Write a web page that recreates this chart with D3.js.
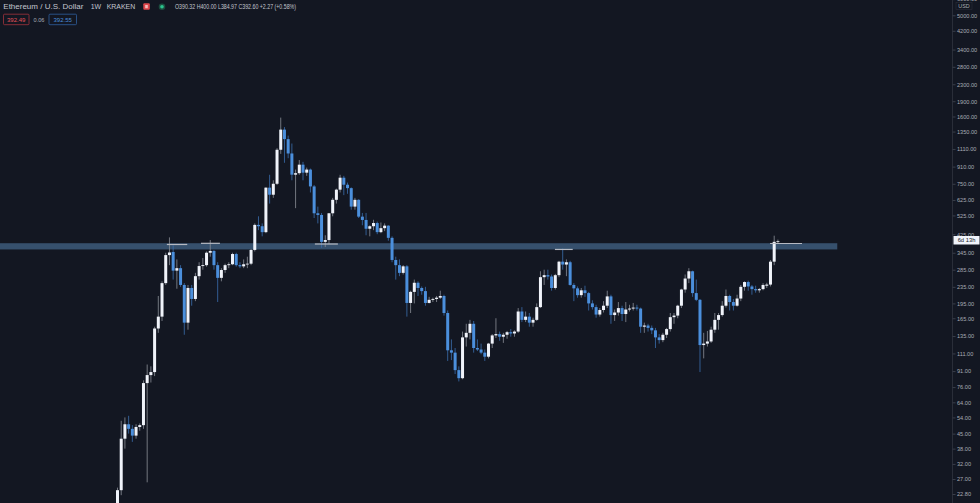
<!DOCTYPE html>
<html>
<head>
<meta charset="utf-8">
<script src="https://cdn.jsdelivr.net/npm/d3@7"></script>
<style>
html, body { margin: 0; padding: 0; background: #131722; }
svg { display: block; font-family: "Liberation Sans", Arial, sans-serif; }
</style>
</head>
<body>
<svg id="chart" width="980" height="503"></svg>
<script>
// weekly candles, first week 2017-03-06, last week 2020-08-03
var opens = [18.5, 23.8, 42.5, 50, 47.5, 44, 48.5, 49.5, 79.5, 87,
    90, 147, 168, 245, 336, 348, 282, 290, 240, 157,
    232, 205, 265, 297, 300, 345, 352, 300, 260, 284,
    300, 303, 340, 300, 296, 303, 305, 356, 472, 465,
    435, 718, 663, 750, 1100, 1380, 1240, 1055, 831, 845,
    930, 850, 880, 728, 538, 528, 390, 398, 538, 626,
    702, 803, 742, 714, 580, 626, 518, 499, 452, 465,
    482, 435, 455, 468, 408, 318, 300, 275, 296, 196,
    222, 246, 232, 224, 196, 203, 205, 208, 212, 175,
    115, 112, 92, 84, 133, 140, 155, 118, 116, 112,
    107, 124, 136, 138, 134, 137, 141, 139, 142, 178,
    162, 168, 157, 162, 187, 262, 268, 264, 232, 268,
    312, 302, 310, 240, 231, 214, 226, 219, 195, 187,
    172, 181, 190, 211, 171, 176, 185, 173, 182, 184,
    186, 184, 150, 152, 148, 144, 133, 129, 137, 146,
    167, 170, 190, 228, 258, 280, 219, 203, 122, 124,
    127, 145, 162, 171, 190, 212, 198, 190, 206, 235,
    248, 236, 229, 226, 229, 238, 241, 312, 390.32];
var highs = [24.5, 52, 54, 55, 49.5, 50, 50.5, 82, 98, 96,
    150, 212, 250, 345, 410, 375, 320, 300, 245, 240,
    240, 275, 310, 325, 350, 398, 355, 310, 290, 305,
    310, 345, 345, 310, 320, 330, 360, 480, 520, 480,
    720, 830, 780, 1120, 1580, 1420, 1290, 1180, 880, 980,
    960, 900, 890, 740, 580, 540, 420, 540, 640, 710,
    830, 820, 760, 720, 640, 630, 540, 540, 470, 500,
    490, 485, 480, 470, 415, 330, 320, 300, 300, 225,
    255, 250, 236, 235, 210, 208, 212, 225, 215, 180,
    130, 118, 96, 142, 155, 162, 160, 130, 124, 116,
    125, 138, 165, 142, 140, 143, 146, 144, 185, 187,
    178, 175, 166, 195, 280, 285, 285, 270, 272, 315,
    362, 320, 315, 245, 236, 232, 238, 222, 202, 192,
    185, 200, 225, 215, 182, 198, 190, 198, 192, 196,
    192, 186, 157, 155, 152, 148, 138, 140, 148, 175,
    175, 192, 230, 270, 290, 282, 255, 205, 140, 143,
    150, 175, 175, 200, 228, 215, 205, 215, 240, 250,
    252, 240, 238, 232, 245, 246, 318, 418, 400];
var lows = [18, 22.5, 38, 45, 41, 42.5, 46.5, 47.5, 26, 80,
    86, 140, 160, 240, 300, 255, 230, 235, 137, 145,
    190, 200, 255, 285, 295, 330, 285, 198, 250, 275,
    290, 300, 295, 290, 290, 290, 300, 350, 445, 415,
    430, 600, 640, 740, 1050, 950, 1000, 780, 570, 830,
    780, 820, 680, 510, 480, 365, 368, 380, 520, 600,
    680, 660, 670, 560, 560, 510, 470, 420, 415, 445,
    425, 430, 440, 395, 310, 255, 265, 270, 168, 175,
    195, 212, 215, 190, 195, 198, 198, 205, 170, 102,
    103, 88, 81, 83, 120, 130, 112, 114, 110, 102,
    105, 118, 132, 128, 125, 131, 134, 134, 140, 158,
    158, 150, 150, 160, 185, 240, 255, 225, 228, 262,
    285, 265, 238, 200, 208, 208, 210, 180, 182, 166,
    168, 176, 185, 155, 160, 170, 160, 158, 178, 180,
    180, 140, 140, 142, 138, 118, 124, 126, 132, 142,
    155, 165, 185, 220, 245, 210, 200, 90, 105, 120,
    125, 140, 145, 168, 186, 180, 180, 188, 200, 225,
    225, 215, 220, 220, 226, 232, 236, 300, 384.97];
var closes = [23.8, 42.5, 50, 47.5, 44, 48.5, 49.5, 79.5, 87, 90,
    147, 168, 245, 336, 346, 282, 290, 240, 157, 232,
    205, 265, 297, 300, 345, 352, 300, 260, 284, 300,
    303, 340, 300, 296, 303, 305, 356, 472, 465, 435,
    718, 663, 750, 1100, 1380, 1240, 1055, 831, 845, 930,
    850, 880, 728, 538, 528, 390, 398, 538, 626, 702,
    803, 742, 714, 580, 626, 518, 499, 452, 465, 482,
    435, 455, 468, 408, 318, 300, 275, 296, 196, 222,
    246, 232, 224, 196, 203, 205, 208, 212, 175, 115,
    112, 92, 84, 133, 140, 155, 118, 116, 112, 107,
    124, 136, 138, 134, 137, 141, 139, 142, 178, 162,
    168, 157, 162, 187, 262, 268, 264, 232, 268, 312,
    302, 310, 240, 231, 214, 226, 219, 195, 187, 172,
    181, 190, 211, 171, 176, 185, 173, 182, 184, 186,
    184, 150, 152, 148, 144, 133, 129, 137, 146, 167,
    170, 190, 228, 258, 280, 219, 203, 122, 124, 127,
    145, 162, 171, 190, 212, 198, 190, 206, 235, 248,
    236, 229, 226, 229, 240, 241, 312, 390, 392.6];

var priceTicks = [22.8, 27, 32, 38, 45, 54, 64, 76, 91, 111, 135, 165, 195,
    235, 285, 345, 425, 525, 625, 750, 910, 1110, 1350, 1600, 1900, 2300,
    2800, 3400, 4200, 5000, 6000];

// resistance zone (price) and its extent in weeks
var zonePrice = [358, 384];
var zoneWeeks = [-32, 194];

// short horizontal marks drawn on the chart
var markFrom = [13.3, 22.5, 53.2, 117.9, 175.9];
var markTo = [18.8, 27.6, 59.4, 122.7, 184.5];
var markPrice = [378.6, 383.6, 380.6, 358, 382.8];

var W = 980, H = 503, paneW = 952.5;
var upColor = "#f0f3fa", downColor = "#4b8fdc";

var svg = d3.select("#chart");
svg.append("rect").attr("width", W).attr("height", H).attr("fill", "#131722");

var x = d3.scaleLinear().domain([0, closes.length - 1]).range([117.5, 777.9]);
var y = d3.scaleLog().domain([22.8, 5000]).range([494, 15.3]);

svg.append("clipPath").attr("id", "pane")
    .append("rect").attr("width", paneW).attr("height", H);

var pane = svg.append("g").attr("clip-path", "url(#pane)");

//zone
pane.append("rect")
    .attr("x", x(zoneWeeks[0]))
    .attr("y", y(zonePrice[1]))
    .attr("width", x(zoneWeeks[1]) - x(zoneWeeks[0]))
    .attr("height", y(zonePrice[0]) - y(zonePrice[1]))
    .attr("fill", "#36506d");

var candles = closes.map(function(c, i){
    return {i: i, o: opens[i], h: highs[i], l: lows[i], c: c};
});

//wicks
pane.selectAll(".wick").data(candles).enter().append("line")
    .attr("class", "wick")
    .attr("x1", function(d){ return x(d.i); })
    .attr("x2", function(d){ return x(d.i); })
    .attr("y1", function(d){ return y(d.h); })
    .attr("y2", function(d){ return y(d.l); })
    .attr("stroke", function(d){ return d.c >= d.o ? "#8c8f98" : "#3b6fae"; })
    .attr("stroke-width", 0.8);

//bodies
var bw = 3;
pane.selectAll(".body").data(candles).enter().append("rect")
    .attr("class", "body")
    .attr("x", function(d){ return x(d.i) - bw / 2; })
    .attr("y", function(d){ return y(Math.max(d.o, d.c)); })
    .attr("width", bw)
    .attr("height", function(d){ return Math.max(0.8, Math.abs(y(d.o) - y(d.c))); })
    .attr("fill", function(d){ return d.c >= d.o ? upColor : downColor; });

//marks
markPrice.forEach(function(p, k){
    pane.append("line")
        .attr("x1", x(markFrom[k])).attr("x2", x(markTo[k]))
        .attr("y1", y(p)).attr("y2", y(p))
        .attr("stroke", "#b6b9c2")
        .attr("stroke-width", 1.2);
});

//price axis
svg.append("line")
    .attr("x1", paneW).attr("x2", paneW)
    .attr("y1", 0).attr("y2", H)
    .attr("stroke", "#2a2e39");

var axis = svg.append("g")
    .attr("transform", "translate(" + paneW + ",0)")
    .call(d3.axisRight(y).tickValues(priceTicks).tickSize(3).tickSizeOuter(0)
        .tickPadding(1.5).tickFormat(d3.format(".2f")));
axis.select(".domain").remove();
axis.selectAll(".tick line").attr("stroke", "#3a3e4a");
axis.selectAll(".tick text")
    .attr("fill", "#a9acb5")
    .style("font-size", "5.6px")
    .style("font-family", "'Liberation Sans', Arial, sans-serif");

svg.append("rect").attr("x", 956).attr("y", 2.6).attr("width", 16).attr("height", 7)
    .attr("fill", "#131722").attr("stroke", "#2a2e39").attr("stroke-width", 0.6);
svg.append("text").attr("x", 964).attr("y", 8.3).attr("text-anchor", "middle")
    .attr("fill", "#a9acb5").style("font-size", "5.4px").text("USD");

// countdown label
svg.append("rect").attr("x", 953.5).attr("y", 236).attr("width", 26).attr("height", 8.5)
    .attr("fill", "#f0f3fa");
svg.append("text").attr("x", 966.5).attr("y", 242.4).attr("text-anchor", "middle")
    .attr("fill", "#131722").style("font-size", "5.8px").text("6d 13h");

//header
var hdr = svg.append("g").attr("fill", "#c3c6ce");
hdr.append("text").attr("x", 3.3).attr("y", 9.2).style("font-size", "8px")
    .attr("textLength", 80).attr("lengthAdjust", "spacingAndGlyphs")
    .text("Ethereum / U.S. Dollar");
hdr.append("text").attr("x", 90.7).attr("y", 9.2).style("font-size", "8px")
    .attr("textLength", 10.5).attr("lengthAdjust", "spacingAndGlyphs").text("1W");
hdr.append("text").attr("x", 106.7).attr("y", 9.2).style("font-size", "8px")
    .attr("textLength", 28.5).attr("lengthAdjust", "spacingAndGlyphs").text("KRAKEN");
hdr.append("text").attr("x", 175).attr("y", 9.2).style("font-size", "7px")
    .attr("textLength", 121).attr("lengthAdjust", "spacingAndGlyphs")
    .text("O390.32 H400.00 L384.97 C392.60 +2.27 (+0.58%)");

svg.append("rect").attr("x", 143.3).attr("y", 3.3).attr("width", 6.5).attr("height", 6.5)
    .attr("rx", 1).attr("fill", "#e0474c");
svg.append("rect").attr("x", 145.2).attr("y", 5).attr("width", 2.6).attr("height", 3.2)
    .attr("fill", "#f6b8ba");
svg.append("circle").attr("cx", 162).attr("cy", 6.8).attr("r", 3.3).attr("fill", "#1c4d3f");
svg.append("circle").attr("cx", 162).attr("cy", 6.8).attr("r", 1.8).attr("fill", "#2bc48f");

//bid / spread / ask
svg.append("rect").attr("x", 3.5).attr("y", 14.2).attr("width", 25.5).attr("height", 10.5)
    .attr("fill", "none").attr("stroke", "#a3343c").attr("stroke-width", 0.8).attr("rx", 1);
svg.append("text").attr("x", 16.2).attr("y", 21.6).attr("text-anchor", "middle")
    .attr("fill", "#e4525a").style("font-size", "6px").text("392.49");
svg.append("text").attr("x", 39).attr("y", 21.6).attr("text-anchor", "middle")
    .attr("fill", "#a9acb5").style("font-size", "5.6px").text("0.06");
svg.append("rect").attr("x", 49).attr("y", 14.2).attr("width", 27.5).attr("height", 10.5)
    .attr("fill", "none").attr("stroke", "#2f5f9e").attr("stroke-width", 0.8).attr("rx", 1);
svg.append("text").attr("x", 62.7).attr("y", 21.6).attr("text-anchor", "middle")
    .attr("fill", "#4b8fdc").style("font-size", "6px").text("392.55");
</script>
</body>
</html>
